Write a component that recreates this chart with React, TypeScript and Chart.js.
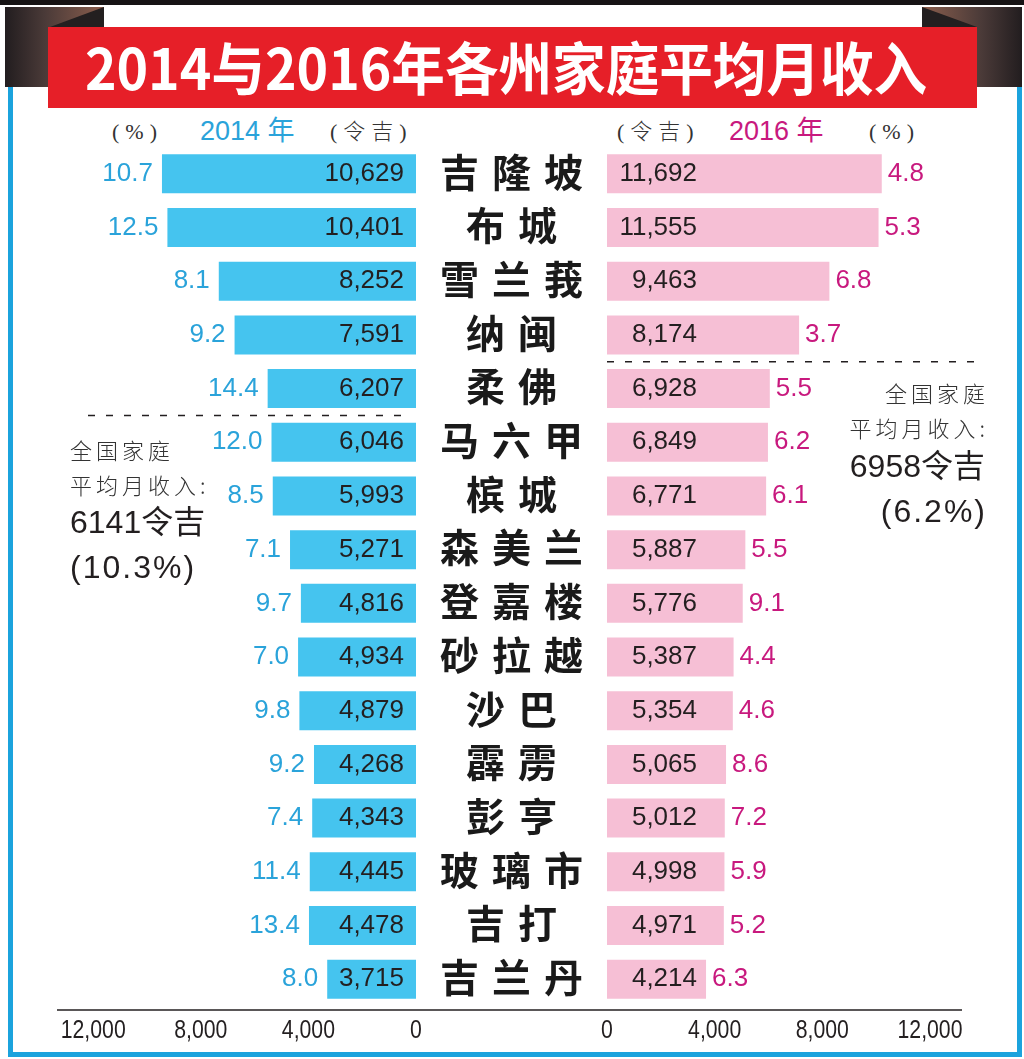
import React, { useEffect, useRef } from 'react';
import { Chart, registerables } from 'chart.js';

Chart.register(...registerables);

// ---------- data ----------
const states = ['吉隆坡', '布城', '雪兰莪', '纳闽', '柔佛', '马六甲', '槟城', '森美兰', '登嘉楼', '砂拉越', '沙巴', '霹雳', '彭亨', '玻璃市', '吉打', '吉兰丹'];
const income2014 = [10629, 10401, 8252, 7591, 6207, 6046, 5993, 5271, 4816, 4934, 4879, 4268, 4343, 4445, 4478, 3715];
const growth2014 = [10.7, 12.5, 8.1, 9.2, 14.4, 12.0, 8.5, 7.1, 9.7, 7.0, 9.8, 9.2, 7.4, 11.4, 13.4, 8.0];
const income2016 = [11692, 11555, 9463, 8174, 6928, 6849, 6771, 5887, 5776, 5387, 5354, 5065, 5012, 4998, 4971, 4214];
const growth2016 = [4.8, 5.3, 6.8, 3.7, 5.5, 6.2, 6.1, 5.5, 9.1, 4.4, 4.6, 8.6, 7.2, 5.9, 5.2, 6.3];
const axisTicks = [0, 4000, 8000, 12000];
const national2014 = 6141;
const nationalGrowth2014 = 10.3;
const national2016 = 6958;
const nationalGrowth2016 = 6.2;

const titleText = '2014与2016年各州家庭平均月收入';

// ---------- styles ----------
const BAR_BLUE = '#45c4ef';
const BAR_PINK = '#f6bfd5';
const TXT_BLUE = '#2aa3da';
const TXT_MAGENTA = '#c8197e';
const FRAME_BLUE = '#1ba3dd';
const RED = '#e61f28';
const DARK = '#231f20';
const NUM_FONT = '"Liberation Sans", Arial, Helvetica, sans-serif';
const CJK_FONT = '"Noto Sans CJK SC", "Noto Sans", sans-serif';

const fmt = (v: number) => v.toLocaleString('en-US');

function drawAxisTicks(chart: any, scaleId: string, y: number) {
  const ctx = chart.ctx;
  const sc = chart.scales[scaleId];
  ctx.save();
  ctx.fillStyle = DARK;
  ctx.font = `25px ${NUM_FONT}`;
  ctx.textAlign = 'center';
  ctx.textBaseline = 'middle';
  axisTicks.forEach((v) => {
    const x = sc.getPixelForValue(v);
    ctx.save();
    ctx.translate(x, y);
    ctx.scale(0.85, 1);
    ctx.fillText(fmt(v), 0, 0);
    ctx.restore();
  });
  ctx.restore();
}

function dashed(ctx: any, x1: number, x2: number, y: number) {
  ctx.save();
  ctx.strokeStyle = DARK;
  ctx.lineWidth = 1.5;
  ctx.setLineDash([7, 11]);
  ctx.beginPath();
  ctx.moveTo(x1, y);
  ctx.lineTo(x2, y);
  ctx.stroke();
  ctx.restore();
}

const leftPlugin = {
  id: 'leftDecor',
  afterDatasetsDraw(chart: any) {
    const ctx = chart.ctx;
    const area = chart.chartArea;
    const meta = chart.getDatasetMeta(0);
    ctx.save();
    ctx.textBaseline = 'middle';
    ctx.font = `26px ${NUM_FONT}`;
    meta.data.forEach((bar: any, i: number) => {
      const p = bar.getProps(['x', 'y', 'base'], true);
      ctx.textAlign = 'right';
      ctx.fillStyle = DARK;
      ctx.fillText(fmt(income2014[i]), p.base - 12, p.y);
      ctx.fillStyle = TXT_BLUE;
      ctx.fillText(growth2014[i].toFixed(1), p.x - 9, p.y);
    });
    ctx.restore();
    // national average divider
    const yS = chart.scales.y;
    const idx = income2014.findIndex((v) => v < national2014);
    const yd = (yS.getPixelForValue(idx - 1) + yS.getPixelForValue(idx)) / 2;
    dashed(ctx, area.right - 328, area.right - 8, yd);
    // bottom axis
    ctx.save();
    ctx.strokeStyle = DARK;
    ctx.lineWidth = 1.5;
    ctx.beginPath();
    ctx.moveTo(area.left + 17, area.bottom + 4);
    ctx.lineTo(area.right, area.bottom + 4);
    ctx.stroke();
    ctx.restore();
    drawAxisTicks(chart, 'xTicks', area.bottom + 25);
  },
};

const LABEL_GAP = 13;
const rightPlugin = {
  id: 'rightDecor',
  afterDatasetsDraw(chart: any) {
    const ctx = chart.ctx;
    const area = chart.chartArea;
    const meta = chart.getDatasetMeta(0);
    ctx.save();
    ctx.textBaseline = 'middle';
    ctx.font = `26px ${NUM_FONT}`;
    meta.data.forEach((bar: any, i: number) => {
      const p = bar.getProps(['x', 'y', 'base'], true);
      ctx.textAlign = 'right';
      ctx.fillStyle = DARK;
      ctx.fillText(fmt(income2016[i]), p.base + 90, p.y);
      ctx.textAlign = 'left';
      ctx.fillStyle = TXT_MAGENTA;
      ctx.fillText(growth2016[i].toFixed(1), p.x + 6, p.y);
    });
    // category labels in the middle column
    const yS = chart.scales.y;
    const cx = area.left - 95.5;
    ctx.font = `bold 39px ${CJK_FONT}`;
    ctx.fillStyle = '#1a1a1a';
    ctx.textAlign = 'left';
    states.forEach((label, i) => {
      const y = yS.getPixelForValue(i) - 2;
      const chars = Array.from(label);
      const widths = chars.map((c) => ctx.measureText(c).width);
      const total = widths.reduce((a, b) => a + b, 0) + LABEL_GAP * (chars.length - 1);
      let x = cx - total / 2;
      chars.forEach((c, k) => {
        ctx.fillText(c, x, y);
        x += widths[k] + LABEL_GAP;
      });
    });
    ctx.restore();
    // national average divider
    const idx = income2016.findIndex((v) => v < national2016);
    const yd = (yS.getPixelForValue(idx - 1) + yS.getPixelForValue(idx)) / 2;
    dashed(ctx, area.left, area.left + 368, yd);
    // bottom axis
    ctx.save();
    ctx.strokeStyle = DARK;
    ctx.lineWidth = 1.5;
    ctx.beginPath();
    ctx.moveTo(0, area.bottom + 4);
    ctx.lineTo(area.left + 355, area.bottom + 4);
    ctx.stroke();
    ctx.restore();
    drawAxisTicks(chart, 'xTicks', area.bottom + 25);
  },
};

function makeConfig(values: number[], color: string, reverse: boolean, barMax: number, tickMax: number, padLeft: number, padRight: number, plugin: any): any {
  return {
    type: 'bar',
    data: {
      labels: states,
      datasets: [
        {
          data: values,
          backgroundColor: color,
          borderWidth: 0,
          barPercentage: 0.727,
          categoryPercentage: 1,
          xAxisID: 'x',
          yAxisID: 'y',
        },
      ],
    },
    options: {
      indexAxis: 'y',
      animation: false,
      responsive: false,
      maintainAspectRatio: false,
      events: [],
      layout: { padding: { left: padLeft, right: padRight, top: 0, bottom: 41 } },
      plugins: { legend: { display: false }, tooltip: { enabled: false } },
      scales: {
        x: { type: 'linear', display: false, reverse, min: 0, max: barMax },
        xTicks: { type: 'linear', axis: 'x', position: 'bottom', display: false, reverse, min: 0, max: tickMax },
        y: { type: 'category', display: false },
      },
    },
    plugins: [plugin],
  };
}

const abs = (s: React.CSSProperties): React.CSSProperties => ({ position: 'absolute', margin: 0, whiteSpace: 'nowrap', ...s });

export default function App() {
  const leftRef = useRef<HTMLCanvasElement>(null);
  const rightRef = useRef<HTMLCanvasElement>(null);

  useEffect(() => {
    const left = new Chart(leftRef.current as HTMLCanvasElement, makeConfig(income2014, BAR_BLUE, true, 15732, 13978, 0, 14, leftPlugin));
    const right = new Chart(rightRef.current as HTMLCanvasElement, makeConfig(income2016, BAR_PINK, false, 16723, 14600, 191, 0, rightPlugin));
    return () => {
      left.destroy();
      right.destroy();
    };
  }, []);

  const noteCjk: React.CSSProperties = { fontFamily: CJK_FONT, fontSize: 22, fontWeight: 300, color: '#333', letterSpacing: 4, lineHeight: '22px' };
  const noteBig: React.CSSProperties = { fontFamily: `${NUM_FONT.split(',')[0]}, ${CJK_FONT}`, fontSize: 32, color: DARK, lineHeight: '32px' };
  const headGray: React.CSSProperties = { fontFamily: `"Liberation Serif", ${CJK_FONT}`, fontSize: 22, color: '#333', letterSpacing: 6, lineHeight: '22px', fontWeight: 300 };
  const headYear: React.CSSProperties = { fontFamily: `${NUM_FONT.split(',')[0]}, ${CJK_FONT}`, fontSize: 27, lineHeight: '27px' };

  return (
    <div style={{ position: 'absolute', left: 0, top: 0, width: 1024, height: 1059, background: '#fff', overflow: 'hidden' }}>
      {/* top black band */}
      <div style={abs({ left: 0, top: 0, width: 1024, height: 5, background: '#161314' })} />
      {/* ribbon ends */}
      <div style={abs({ left: 5, top: 7, width: 99, height: 80, background: 'linear-gradient(to right, #221d1f 0%, #4a3a38 40%, #7a5548 85%, #8d5a48 100%)' })} />
      <div style={abs({ left: 50, top: 7, width: 54, height: 20, background: DARK, clipPath: 'polygon(0% 100%, 100% 0%, 100% 100%)' })} />
      <div style={abs({ left: 922, top: 7, width: 100, height: 80, background: 'linear-gradient(to left, #221d1f 0%, #4a3a38 40%, #7a5548 85%, #8d5a48 100%)' })} />
      <div style={abs({ left: 922, top: 7, width: 55, height: 20, background: DARK, clipPath: 'polygon(0% 0%, 100% 100%, 0% 100%)' })} />
      {/* frame */}
      <div style={abs({ left: 8, top: 87, width: 5, height: 970, background: FRAME_BLUE })} />
      <div style={abs({ left: 1017, top: 87, width: 5, height: 970, background: FRAME_BLUE })} />
      <div style={abs({ left: 8, top: 1052, width: 1014, height: 5, background: FRAME_BLUE })} />
      {/* red banner + title */}
      <div style={abs({ left: 48, top: 27, width: 929, height: 81, background: RED, display: 'flex', alignItems: 'center', justifyContent: 'center' })}>
        <span style={{ fontFamily: CJK_FONT, fontWeight: 700, fontSize: 57, color: '#fff', lineHeight: '57px', transform: 'scaleX(0.94)', display: 'inline-block', whiteSpace: 'nowrap', marginTop: -5, marginLeft: -12 }}>{titleText}</span>
      </div>

      {/* column headers */}
      <div style={abs({ left: 112, top: 121, ...headGray })}>(%)</div>
      <div style={abs({ left: 200, top: 118, ...headYear, color: TXT_BLUE })}>2014 年</div>
      <div style={abs({ left: 330, top: 121, ...headGray })}>(令吉)</div>
      <div style={abs({ left: 617, top: 121, ...headGray })}>(令吉)</div>
      <div style={abs({ left: 729, top: 118, ...headYear, color: TXT_MAGENTA })}>2016 年</div>
      <div style={abs({ left: 869, top: 121, ...headGray })}>(%)</div>

      {/* charts */}
      <canvas ref={leftRef} width={390} height={900} style={{ position: 'absolute', left: 40, top: 147, width: 390, height: 900 }} />
      <canvas ref={rightRef} width={584} height={900} style={{ position: 'absolute', left: 416, top: 147, width: 584, height: 900 }} />

      {/* national notes */}
      <div style={abs({ left: 70, top: 438, ...noteCjk })}>全国家庭</div>
      <div style={abs({ left: 70, top: 473, ...noteCjk })}>平均月收入:</div>
      <div style={abs({ left: 70, top: 506, ...noteBig })}>{`${national2014}令吉`}</div>
      <div style={abs({ left: 70, top: 551, ...noteBig, letterSpacing: 2 })}>{`(${nationalGrowth2014.toFixed(1)}%)`}</div>

      <div style={abs({ right: 1024 - 989, top: 381, ...noteCjk, textAlign: 'right' })}>全国家庭</div>
      <div style={abs({ right: 1024 - 989, top: 416, ...noteCjk, textAlign: 'right' })}>平均月收入:</div>
      <div style={abs({ right: 1024 - 985, top: 450, ...noteBig, textAlign: 'right' })}>{`${national2016}令吉`}</div>
      <div style={abs({ right: 1024 - 987, top: 495, ...noteBig, letterSpacing: 2, textAlign: 'right' })}>{`(${nationalGrowth2016.toFixed(1)}%)`}</div>
    </div>
  );
}
